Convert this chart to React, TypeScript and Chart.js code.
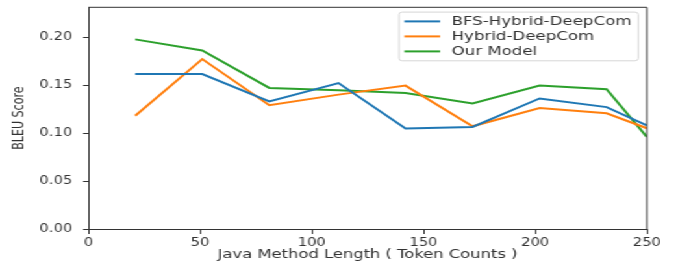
import React, { useEffect, useRef } from 'react';
import { Chart, registerables } from 'chart.js';

Chart.register(...registerables);

// ---- data ----
const xValues = [21, 51, 81, 112, 142, 172, 202, 232, 250];
const bfsHybridDeepCom = [0.1615, 0.1615, 0.133, 0.152, 0.1047, 0.1064, 0.136, 0.127, 0.108];
const hybridDeepCom = [0.118, 0.177, 0.129, 0.140, 0.1494, 0.107, 0.126, 0.1206, 0.105];
const ourModel = [0.1976, 0.186, 0.147, 0.1446, 0.1418, 0.1307, 0.1494, 0.1456, 0.096];
const seriesLabels = ['BFS-Hybrid-DeepCom', 'Hybrid-DeepCom', 'Our Model'];
const seriesColors = ['#1f77b4', '#ff7f0e', '#2ca02c'];
const xTicks = [0, 50, 100, 150, 200, 250];
const yTicks = [0, 0.05, 0.1, 0.15, 0.2];
const xTitle = 'Java Method Length ( Token Counts )';
const yTitle = 'BLEU Score';

// ---- layout ----
const OUT_W = 678;
const OUT_H = 264;
const IN_W = 522; // drawn narrower, then stretched horizontally like the reference
const STRETCH = OUT_W / IN_W;

const TEXT = '#333333';
const SPINE = '#333333';

const framePlugin = {
  id: 'frame',
  afterDatasetsDraw(chart: any) {
    const { ctx, chartArea } = chart;
    const { left, right, top, bottom } = chartArea;
    ctx.save();
    ctx.strokeStyle = SPINE;
    ctx.lineWidth = 1;
    ctx.beginPath();
    ctx.moveTo(left, top);
    ctx.lineTo(right, top);
    ctx.lineTo(right, bottom);
    ctx.stroke();
    ctx.restore();
  },
};

const legendPlugin = {
  id: 'mplLegend',
  afterDraw(chart: any) {
    const { ctx, chartArea } = chart;
    const boxW = 184.2;
    const boxH = 48.7;
    const right = chartArea.right - 6.6;
    const left = right - boxW;
    const top = chartArea.top + 4.8;
    ctx.save();
    ctx.beginPath();
    const r = 2.5;
    ctx.moveTo(left + r, top);
    ctx.lineTo(left + boxW - r, top);
    ctx.quadraticCurveTo(left + boxW, top, left + boxW, top + r);
    ctx.lineTo(left + boxW, top + boxH - r);
    ctx.quadraticCurveTo(left + boxW, top + boxH, left + boxW - r, top + boxH);
    ctx.lineTo(left + r, top + boxH);
    ctx.quadraticCurveTo(left, top + boxH, left, top + boxH - r);
    ctx.lineTo(left, top + r);
    ctx.quadraticCurveTo(left, top, left + r, top);
    ctx.closePath();
    ctx.fillStyle = 'rgba(255,255,255,0.85)';
    ctx.fill();
    ctx.strokeStyle = '#d6d6d6';
    ctx.lineWidth = 1;
    ctx.stroke();

    ctx.font = '12.8px "DejaVu Sans"';
    ctx.textBaseline = 'middle';
    ctx.textAlign = 'left';
    chart.data.datasets.forEach((ds: any, i: number) => {
      const y = top + 9.3 + i * 15;
      ctx.strokeStyle = ds.borderColor;
      ctx.lineWidth = 2;
      ctx.beginPath();
      ctx.moveTo(left + 4.2, y);
      ctx.lineTo(left + 31.7, y);
      ctx.stroke();
      ctx.fillStyle = TEXT;
      ctx.fillText(ds.label, left + 40.5, y + 0.5);
    });
    ctx.restore();
  },
};

export default function App() {
  const canvasRef = useRef<HTMLCanvasElement | null>(null);

  useEffect(() => {
    const canvas = canvasRef.current;
    if (!canvas) return;
    const series = [bfsHybridDeepCom, hybridDeepCom, ourModel];
    const chart = new Chart(canvas, {
      type: 'line',
      data: {
        datasets: series.map((vals, i) => ({
          label: seriesLabels[i],
          data: vals.map((v, j) => ({ x: xValues[j], y: v })),
          borderColor: seriesColors[i],
          backgroundColor: seriesColors[i],
          borderWidth: 2,
          pointRadius: 0,
          tension: 0,
          fill: false,
        })),
      },
      options: {
        animation: false,
        responsive: false,
        devicePixelRatio: 1,
        layout: { padding: { left: 0, right: 24, top: 7.3, bottom: 0 } },
        plugins: {
          legend: { display: false },
          tooltip: { enabled: false },
        },
        scales: {
          x: {
            type: 'linear',
            min: 0,
            max: 250,
            afterBuildTicks: (s: any) => {
              s.ticks = xTicks.map((v) => ({ value: v }));
            },
            afterFit: (s: any) => {
              s.height = 35;
              s.paddingLeft = 0;
              s.paddingRight = 0;
            },
            ticks: {
              font: { family: 'DejaVu Sans', size: 11.4 },
              color: TEXT,
              padding: 2,
              maxRotation: 0,
              autoSkip: false,
            },
            grid: { drawOnChartArea: false, drawTicks: true, tickLength: 5, tickColor: SPINE },
            border: { display: true, color: SPINE, width: 1 },
            title: {
              display: true,
              text: xTitle,
              color: TEXT,
              font: { family: 'DejaVu Sans', size: 12.6 },
              padding: { top: 0, bottom: 1.4 },
            },
          },
          y: {
            type: 'linear',
            min: 0,
            max: 0.231,
            afterBuildTicks: (s: any) => {
              s.ticks = yTicks.map((v) => ({ value: v }));
            },
            afterFit: (s: any) => {
              s.width = 68;
              s.paddingTop = 0;
              s.paddingBottom = 0;
            },
            ticks: {
              font: { family: 'DejaVu Sans', size: 11.4 },
              color: TEXT,
              padding: 8.3,
              autoSkip: false,
              callback: (v: any) => Number(v).toFixed(2),
            },
            grid: { drawOnChartArea: false, drawTicks: true, tickLength: 4, tickColor: SPINE },
            border: { display: true, color: SPINE, width: 1 },
            title: {
              display: true,
              text: yTitle,
              color: TEXT,
              font: { family: '"Liberation Sans Narrow", "DejaVu Sans Condensed", "DejaVu Sans"', size: 12.3 },
              padding: { top: 7.2, bottom: 0 },
            },
          },
        },
      },
      plugins: [framePlugin, legendPlugin],
    } as any);
    return () => chart.destroy();
  }, []);

  return (
    <div
      style={{
        position: 'fixed',
        left: 0,
        top: 0,
        width: IN_W,
        height: OUT_H,
        transform: `scaleX(${STRETCH})`,
        transformOrigin: '0 0',
        background: '#ffffff',
      }}
    >
      <canvas ref={canvasRef} width={IN_W} height={OUT_H} style={{ display: 'block' }} />
    </div>
  );
}
